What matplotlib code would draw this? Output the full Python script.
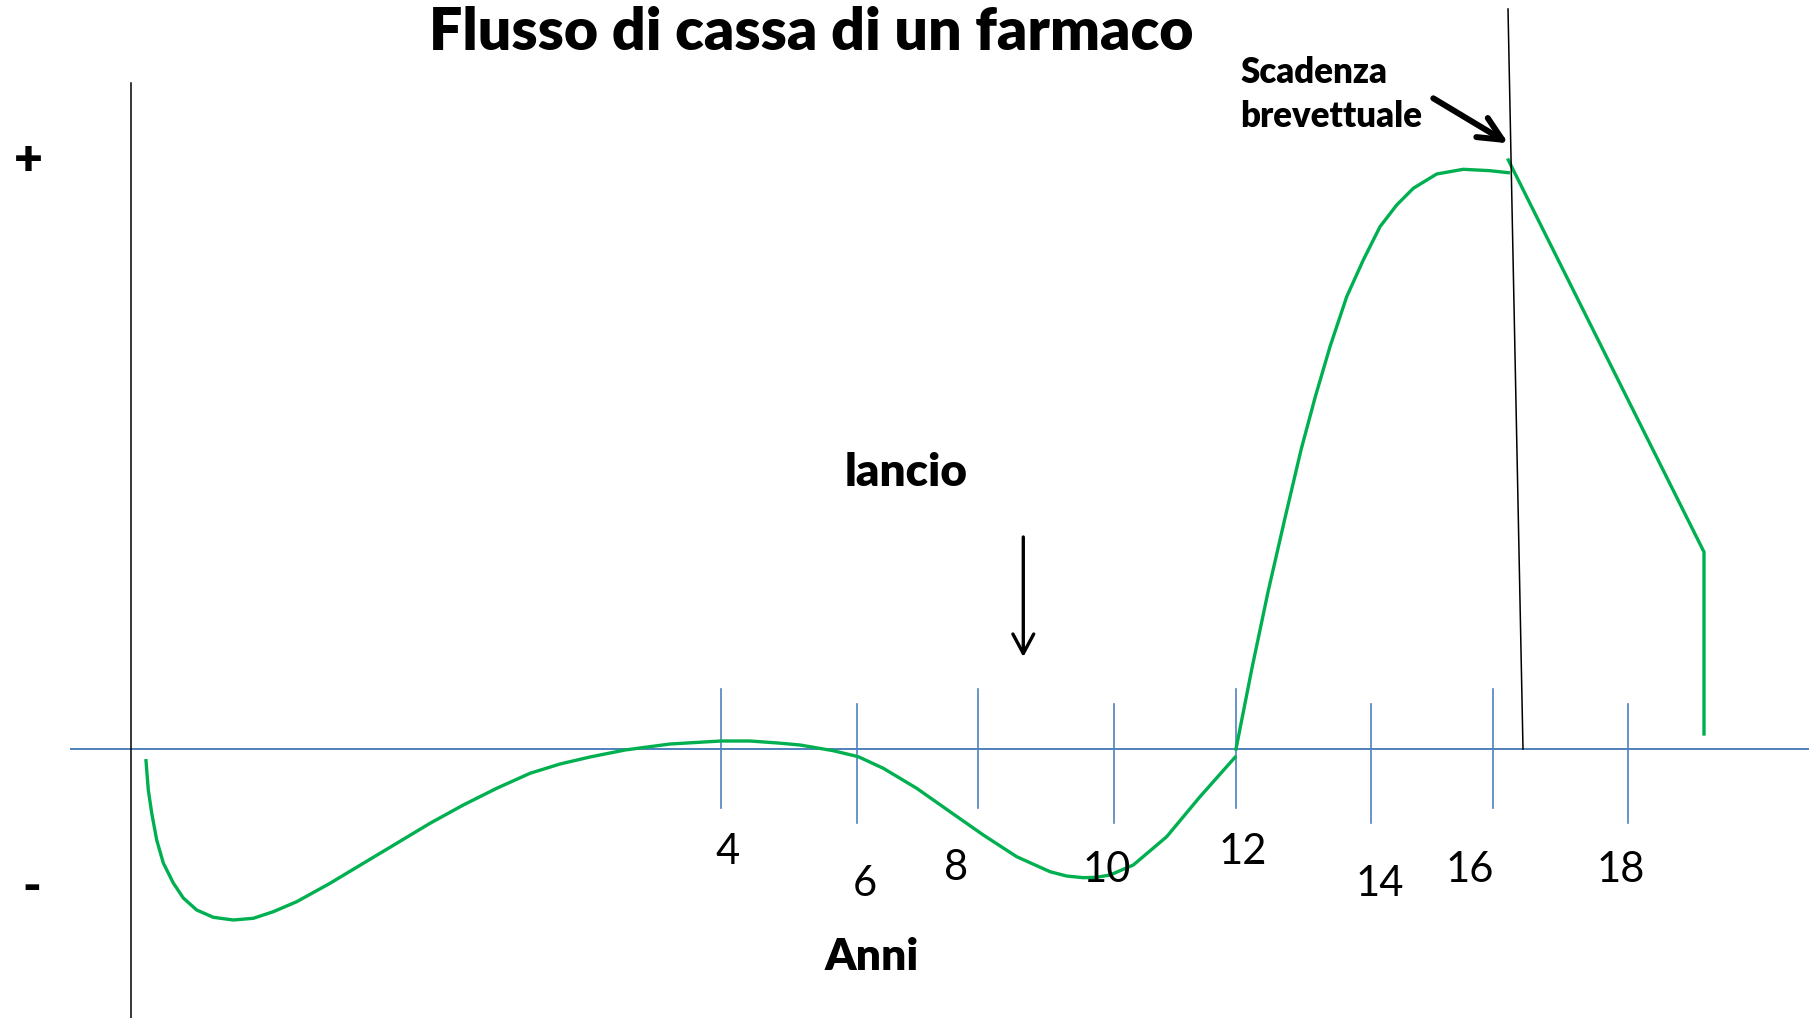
"""
Schema del flusso di cassa di un farmaco nel tempo (disegno schematico).
Le coordinate sono in unita' del disegno: x verso destra dall'asse verticale,
y verso l'alto dalla linea dello zero.
"""
import matplotlib
matplotlib.use("Agg")
import matplotlib.pyplot as plt

plt.rcParams['font.family'] = ['Lato', 'DejaVu Sans']

# Curva del flusso di cassa: fase negativa (ricerca, sviluppo, lancio)
fase_neg_x = [0.145, 0.168, 0.202, 0.252, 0.318, 0.418, 0.518, 0.652, 0.818, 1.018,
              1.218, 1.418, 1.652, 1.985, 2.318, 2.652, 2.985, 3.318, 3.652, 3.985,
              4.285, 4.585, 4.935, 5.385, 5.895, 6.185, 6.465, 6.685, 7.018, 7.268,
              7.518, 7.852, 8.185, 8.518, 8.852, 9.185, 9.35, 9.518, 9.65, 9.785,
              10.018, 10.352, 10.685, 11.035]
fase_neg_y = [-0.117, -0.41, -0.64, -0.91, -1.14, -1.34, -1.49, -1.61, -1.683, -1.71,
              -1.693, -1.627, -1.527, -1.343, -1.143, -0.943, -0.743, -0.56, -0.393, -0.243,
              -0.15, -0.08, -0.01, 0.05, 0.08, 0.08, 0.06, 0.04, -0.017, -0.077,
              -0.193, -0.393, -0.627, -0.86, -1.077, -1.227, -1.27, -1.287, -1.283, -1.26,
              -1.16, -0.877, -0.477, -0.083]

# Fase positiva: crescita delle vendite fino alla scadenza del brevetto
fase_pos_x = [11.045, 11.205, 11.365, 11.535, 11.695, 11.838, 11.985, 12.152, 12.318,
              12.485, 12.652, 12.818, 13.052, 13.318, 13.585, 13.768]
fase_pos_y = [0.00, 0.81, 1.57, 2.31, 2.99, 3.523, 4.023, 4.523, 4.89,
              5.223, 5.44, 5.607, 5.75, 5.797, 5.783, 5.763]

# Dopo la scadenza: calo per i generici
post_x = [13.768, 15.725, 15.725]
post_y = [5.89, 1.97, 0.15]

# Tacche sull'asse degli anni (alternate alte/basse)
tacche_alte = [5.895, 8.465, 11.045, 13.615]
tacche_basse = [7.255, 9.825, 12.395, 14.965]

# Etichette degli anni
anni_label = ["4", "6", "8", "10", "12", "14", "16", "18"]
anni_x = [5.965, 7.335, 8.245, 9.755, 11.115, 12.485, 13.385, 14.895]
anni_y = [-1.035, -1.345, -1.195, -1.205, -1.035, -1.345, -1.215, -1.215]

# Linea della scadenza brevettuale
scadenza_x = [13.765, 13.915]
scadenza_y = [7.40, 0.0]

verde = "#00B050"
blu = "#4F81BD"

fig = plt.figure(figsize=(18.09, 10.18), dpi=100)
ax = fig.add_axes([0, 0, 1, 1])
ax.set_xlim(-1.315, 16.775)
ax.set_ylim(-2.69, 7.49)
ax.axis("off")

# assi
ax.plot([-0.605, 16.775], [0, 0], color=blu, lw=1.4)
ax.plot([0, 0], [6.66, -2.69], color="black", lw=1.1)

for x in tacche_alte:
    ax.plot([x, x], [-0.59, 0.60], color=blu, lw=1.2)
for x in tacche_basse:
    ax.plot([x, x], [-0.74, 0.45], color=blu, lw=1.2)

for lab, x, y in zip(anni_label, anni_x, anni_y):
    ax.text(x, y, lab, fontsize=30, ha="center", va="center", color="black")

# curva
ax.plot(fase_neg_x, fase_neg_y, color=verde, lw=2.4, solid_joinstyle="round")
ax.plot(fase_pos_x, fase_pos_y, color=verde, lw=2.4, solid_joinstyle="round")
ax.plot(post_x, post_y, color=verde, lw=2.4, solid_joinstyle="miter")

ax.plot(scadenza_x, scadenza_y, color="black", lw=1.1)

# testi
ax.text(6.795, 7.165, "Flusso di cassa di un farmaco", fontsize=42.5, fontweight="heavy",
        ha="center", va="center")
ax.text(11.085, 6.765, "Scadenza", fontsize=25, fontweight="heavy", ha="left", va="center")
ax.text(11.085, 6.325, "brevettuale", fontsize=25, fontweight="heavy", ha="left", va="center")
ax.text(7.745, 2.77, "lancio", fontsize=33, fontweight="heavy", ha="center", va="center")
ax.text(7.405, -2.075, "Anni", fontsize=32, fontweight="heavy", ha="center", va="center")
ax.text(-1.035, 5.885, "+", fontsize=36, fontweight="heavy", ha="center", va="center")
ax.text(-0.995, -1.385, "-", fontsize=36, fontweight="heavy", ha="center", va="center")

# frecce
ax.annotate("", xy=(8.918, 0.92), xytext=(8.918, 2.12),
            arrowprops=dict(arrowstyle="->,head_length=1.4,head_width=0.75",
                            color="black", lw=2.4, shrinkA=0, shrinkB=0))
ax.annotate("", xy=(13.768, 6.057), xytext=(13.018, 6.507),
            arrowprops=dict(arrowstyle="->,head_length=1.7,head_width=0.8",
                            color="black", lw=4.3, shrinkA=0, shrinkB=0))

fig.savefig("out.png", dpi=100)
